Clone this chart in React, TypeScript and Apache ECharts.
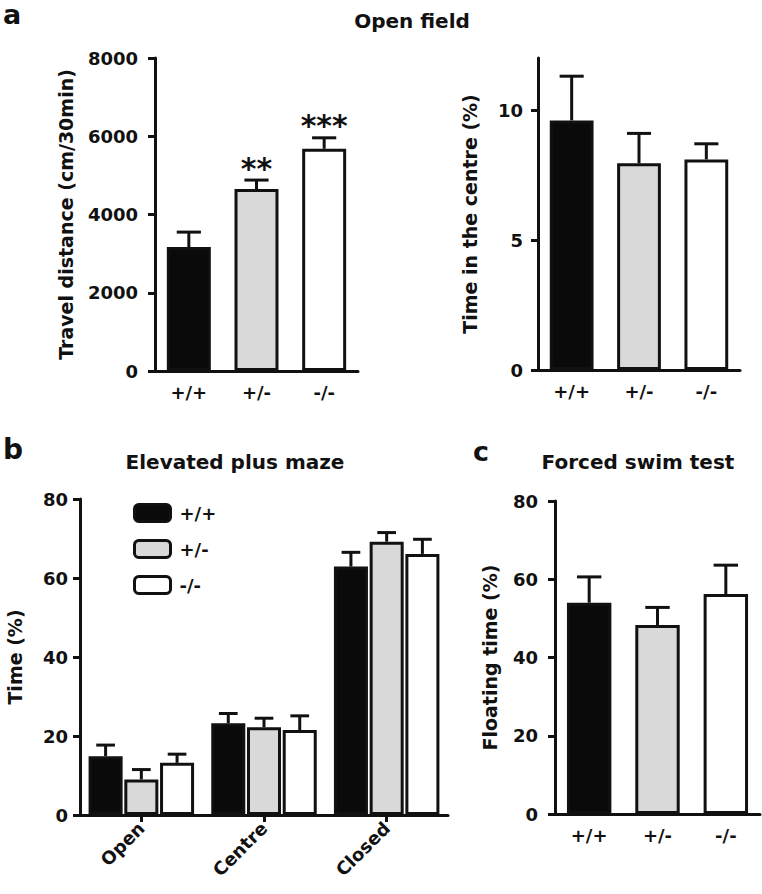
import React, { useEffect, useRef } from 'react';
import * as echarts from 'echarts';

// ---------- data ----------
const genotypes = ['+/+', '+/-', '-/-'];
const travelMean = [3170, 4650, 5680];
const travelErrTop = [3550, 4880, 5960];
const travelSig = ['', '**', '***'];

const centreMean = [9.6, 7.95, 8.1];
const centreErrTop = [11.3, 9.1, 8.7];
const centreTicks = [0, 5, 10];

const mazeZones = ['Open', 'Centre', 'Closed'];
const mazeWT = [14.9, 23.2, 62.9];
const mazeWTErrTop = [17.7, 25.7, 66.5];
const mazeHet = [9.0, 22.2, 69.2];
const mazeHetErrTop = [11.5, 24.5, 71.5];
const mazeKO = [13.2, 21.5, 66.1];
const mazeKOErrTop = [15.4, 25.1, 69.8];

const swimMean = [54.0, 48.3, 56.2];
const swimErrTop = [60.6, 52.8, 63.6];

// ---------- style ----------
const INK = '#111';
const FILLS = ['#0a0a0a', '#d9d9d9', '#ffffff'];
const FONT = 'DejaVu Sans';
const BORDER = 3;
const SINGLE_W = 0.65;

function makeErr(
  xi: number,
  means: number[],
  tops: number[],
  o: { index: number; count: number; width: number; gap: number; sig?: string[] }
) {
  return {
    type: 'custom',
    xAxisIndex: xi,
    yAxisIndex: xi,
    z: 5,
    silent: true,
    data: means.map((m, i) => [i, m, tops[i]]),
    renderItem: (params: any, api: any) => {
      const band = api.size([1, 0])[0];
      let bw: number;
      let off: number;
      if (o.count === 1) {
        bw = band * o.width;
        off = 0;
      } else {
        bw = (band * (1 - o.width)) / (o.count + (o.count - 1) * o.gap);
        const total = o.count * bw + (o.count - 1) * o.gap * bw;
        off = -total / 2 + bw / 2 + o.index * bw * (1 + o.gap);
      }
      const base = api.coord([api.value(0), api.value(1)]);
      const top = api.coord([api.value(0), api.value(2)]);
      const cx = base[0] + off;
      const cap = bw * 0.55;
      const children: any[] = [
        { type: 'line', shape: { x1: cx, y1: base[1], x2: cx, y2: top[1] }, style: { stroke: INK, lineWidth: BORDER } },
        { type: 'line', shape: { x1: cx - cap / 2, y1: top[1], x2: cx + cap / 2, y2: top[1] }, style: { stroke: INK, lineWidth: BORDER } },
      ];
      const s = o.sig ? o.sig[params.dataIndex] : '';
      if (s) {
        children.push({
          type: 'text',
          x: cx,
          y: top[1] - 12,
          style: { text: s, font: `bold 30px "${FONT}"`, fill: INK, textAlign: 'center', textVerticalAlign: 'middle' },
        });
      }
      return { type: 'group', children };
    },
  };
}

function singleBars(xi: number, values: number[]) {
  return {
    type: 'bar',
    name: 'bars' + xi,
    xAxisIndex: xi,
    yAxisIndex: xi,
    barWidth: SINGLE_W * 100 + '%',
    z: 3,
    data: values.map((v, i) => ({ value: v, itemStyle: { color: FILLS[i] } })),
    itemStyle: { borderColor: INK, borderWidth: BORDER },
  };
}

const axisLabelStyle = { color: INK, fontFamily: FONT, fontWeight: 'bold', fontSize: 18 };
const nameStyle = { color: INK, fontFamily: FONT, fontWeight: 'bold', fontSize: 19 };
const plain = (v: number) => String(v);

function yAxis(gi: number, max: number, name: string, gap: number, labelMargin: number, extra: any = {}) {
  return {
    type: 'value',
    gridIndex: gi,
    min: 0,
    max,
    name,
    nameLocation: 'middle',
    nameRotate: 90,
    nameGap: gap,
    nameTextStyle: nameStyle,
    splitLine: { show: false },
    axisLine: { show: true, lineStyle: { color: INK, width: BORDER } },
    axisTick: { show: true, length: 7, lineStyle: { color: INK, width: BORDER } },
    axisLabel: { ...axisLabelStyle, margin: labelMargin, formatter: plain },
    ...extra,
  };
}

function xAxis(gi: number, data: string[], extra: any = {}) {
  return {
    type: 'category',
    gridIndex: gi,
    data,
    axisLine: { show: true, lineStyle: { color: INK, width: BORDER } },
    axisTick: { show: false },
    axisLabel: { ...axisLabelStyle, margin: 12 },
    ...extra,
  };
}

export default function App() {
  const ref = useRef<HTMLDivElement>(null);
  useEffect(() => {
    document.body.style.margin = '0';
    const chart = echarts.init(ref.current!, null, { renderer: 'svg' });
    const text = (t: string, x: number, y: number, size: number, align = 'left') => ({
      type: 'text',
      x,
      y,
      style: { text: t, font: `bold ${size}px "${FONT}"`, fill: INK, textAlign: align, textVerticalAlign: 'middle' },
    });
    chart.setOption({
      animation: false,
      backgroundColor: '#fff',
      textStyle: { fontFamily: FONT },
      grid: [
        { left: 155, top: 58, width: 203, height: 313, outerBoundsMode: 'none' },
        { left: 538, top: 58, width: 202, height: 312, outerBoundsMode: 'none' },
        { left: 80, top: 499, width: 368, height: 316, outerBoundsMode: 'none' },
        { left: 555, top: 501, width: 205, height: 313, outerBoundsMode: 'none' },
      ],
      xAxis: [
        xAxis(0, genotypes),
        xAxis(1, genotypes),
        xAxis(2, mazeZones, {
          axisTick: { show: true, alignWithLabel: true, length: 7, lineStyle: { color: INK, width: BORDER } },
          axisLabel: { ...axisLabelStyle, margin: 10, rotate: 45 },
        }),
        xAxis(3, genotypes),
      ],
      yAxis: [
        yAxis(0, 8000, 'Travel distance (cm/30min)', 80, 17, { interval: 2000 }),
        yAxis(1, 12, 'Time in the centre (%)', 59, 15, {
          axisTick: { show: true, length: 7, lineStyle: { color: INK, width: BORDER }, customValues: centreTicks },
          axisLabel: { ...axisLabelStyle, margin: 15, customValues: centreTicks, formatter: plain },
        }),
        yAxis(2, 80, 'Time (%)', 56, 12, { interval: 20 }),
        yAxis(3, 80, 'Floating time (%)', 56, 17, { interval: 20 }),
      ],
      legend: {
        data: genotypes,
        orient: 'vertical',
        left: 128,
        top: 498,
        itemWidth: 36,
        itemHeight: 17,
        itemGap: 16,
        icon: 'roundRect',
        selectedMode: false,
        itemStyle: { borderColor: INK, borderWidth: BORDER },
        textStyle: { ...axisLabelStyle, padding: [0, 0, 0, 4] },
      },
      graphic: [
        text('a', 3, 14, 27),
        text('Open field', 412, 21, 20, 'center'),
        text('b', 3, 449, 28),
        text('Elevated plus maze', 235, 462, 20, 'center'),
        text('c', 473, 451, 27),
        text('Forced swim test', 638, 462, 20, 'center'),
      ],
      series: [
        singleBars(0, travelMean),
        makeErr(0, travelMean, travelErrTop, { index: 0, count: 1, width: SINGLE_W, gap: 0, sig: travelSig }),
        singleBars(1, centreMean),
        makeErr(1, centreMean, centreErrTop, { index: 0, count: 1, width: SINGLE_W, gap: 0 }),
        ...[mazeWT, mazeHet, mazeKO].map((vals, i) => ({
          type: 'bar',
          name: genotypes[i],
          xAxisIndex: 2,
          yAxisIndex: 2,
          barCategoryGap: '14%',
          barGap: '5%',
          z: 3,
          data: vals,
          itemStyle: { color: FILLS[i], borderColor: INK, borderWidth: BORDER },
        })),
        makeErr(2, mazeWT, mazeWTErrTop, { index: 0, count: 3, width: 0.14, gap: 0.05 }),
        makeErr(2, mazeHet, mazeHetErrTop, { index: 1, count: 3, width: 0.14, gap: 0.05 }),
        makeErr(2, mazeKO, mazeKOErrTop, { index: 2, count: 3, width: 0.14, gap: 0.05 }),
        singleBars(3, swimMean),
        makeErr(3, swimMean, swimErrTop, { index: 0, count: 1, width: SINGLE_W, gap: 0 }),
      ],
    });
    return () => chart.dispose();
  }, []);
  return <div ref={ref} style={{ width: 762, height: 894 }} />;
}
